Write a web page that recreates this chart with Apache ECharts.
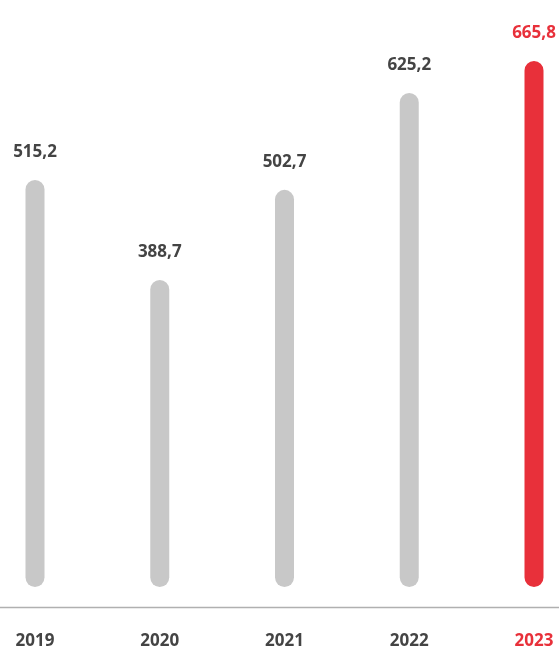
<!DOCTYPE html>
<html>
<head>
<meta charset="utf-8">
<script src="https://cdn.jsdelivr.net/npm/echarts@6/dist/echarts.min.js"></script>
<style>
html,body{margin:0;padding:0;background:#fff;}
#c{width:559px;height:651px;}
</style>
</head>
<body>
<div id="c"></div>
<script>
var categories = ['2019', '2020', '2021', '2022', '2023'];
var values = [515.2, 388.7, 502.7, 625.2, 665.8];
var highlightIndex = 4;

var GREY = '#c8c8c8', RED = '#e8303a', TEXT = '#444444';
var FONT = '"Open Sans", "Noto Sans", sans-serif';

var chart = echarts.init(document.getElementById('c'));
chart.setOption({
  animation: false,
  grid: { left: 35, right: 25, top: 34, bottom: 64 },
  xAxis: {
    type: 'category',
    data: categories,
    boundaryGap: false,
    axisLine: { show: false },
    axisTick: { show: false },
    axisLabel: {
      margin: 46,
      fontFamily: FONT,
      fontWeight: 'bold',
      fontSize: 17,
      color: function (v, i) { return i === highlightIndex ? RED : TEXT; }
    }
  },
  yAxis: {
    type: 'value',
    min: 0,
    max: 700,
    show: false,
    splitLine: { show: false }
  },
  graphic: [{
    type: 'line',
    shape: { x1: 0, y1: 607.5, x2: 559, y2: 607.5 },
    style: { stroke: '#b0b0b0', lineWidth: 1.5 },
    silent: true
  }],
  series: [{
    type: 'bar',
    barWidth: 19,
    data: values.map(function (v, i) {
      return {
        value: v,
        itemStyle: { color: i === highlightIndex ? RED : GREY, borderRadius: 9.5 },
        label: { color: i === highlightIndex ? RED : TEXT }
      };
    }),
    label: {
      show: true,
      position: 'top',
      distance: 19,
      fontFamily: FONT,
      fontWeight: 'bold',
      fontSize: 17,
      formatter: function (p) { return p.value.toFixed(1).replace('.', ','); }
    }
  }]
});
</script>
</body>
</html>
